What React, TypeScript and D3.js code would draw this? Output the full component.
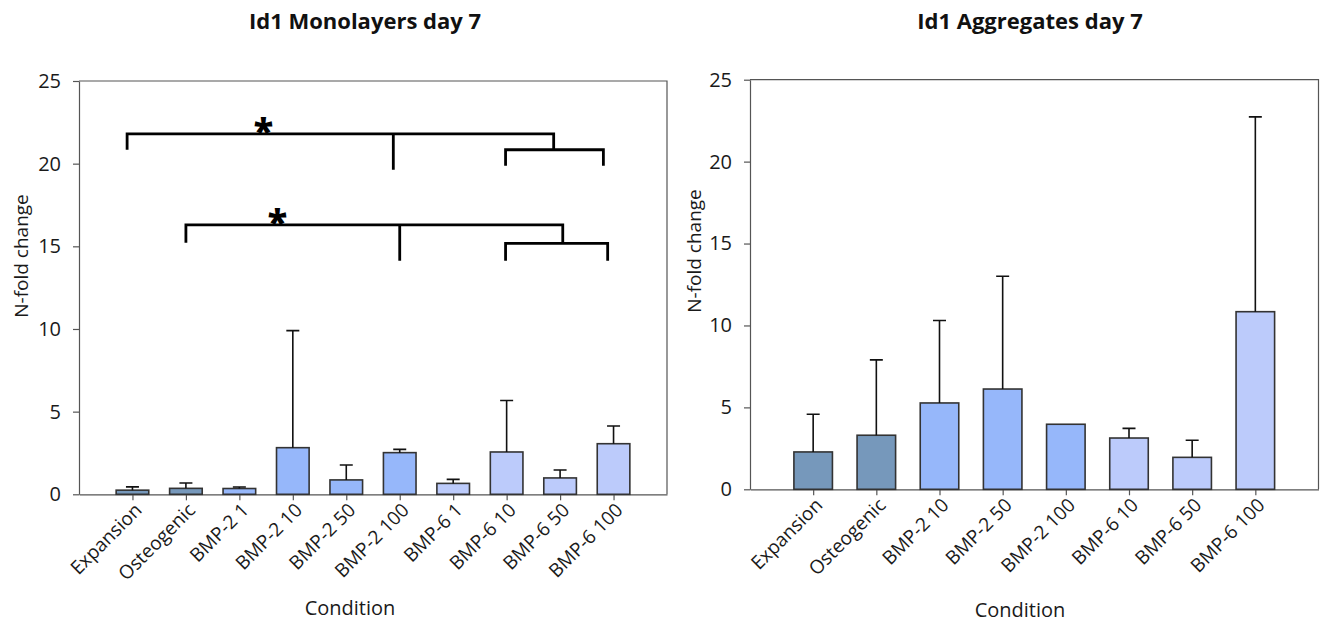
import React, { useEffect, useRef } from "react";
import * as d3 from "d3";

// Id1 monolayers, day 7
const monoCategories = ["Expansion", "Osteogenic", "BMP-2 1", "BMP-2 10", "BMP-2 50", "BMP-2 100", "BMP-6 1", "BMP-6 10", "BMP-6 50", "BMP-6 100"];
const monoGroups = ["ctrl", "ctrl", "bmp2", "bmp2", "bmp2", "bmp2", "bmp6", "bmp6", "bmp6", "bmp6"];
const monoMeans = [0.25, 0.36, 0.35, 2.82, 0.87, 2.52, 0.66, 2.56, 0.99, 3.06];
const monoErrTop = [0.45, 0.68, 0.44, 9.9, 1.77, 2.72, 0.9, 5.67, 1.47, 4.13];

// Id1 aggregates, day 7
const aggCategories = ["Expansion", "Osteogenic", "BMP-2 10", "BMP-2 50", "BMP-2 100", "BMP-6 10", "BMP-6 50", "BMP-6 100"];
const aggGroups = ["ctrl", "ctrl", "bmp2", "bmp2", "bmp2", "bmp6", "bmp6", "bmp6"];
const aggMeans = [2.28, 3.3, 5.27, 6.12, 3.97, 3.13, 1.95, 10.84];
const aggErrTop = [4.58, 7.9, 10.3, 13.0, 3.97, 3.72, 2.99, 22.73];

const yTicks = [0, 5, 10, 15, 20, 25];

// significance brackets on the monolayer panel (x = category index, y = N-fold)
const brackets = [
  { top: 21.8, left: -0.1, leftEnd: 20.84, mid: 4.88, midEnd: 19.63, node: 7.88, sub: 20.84, subL: 6.98, subR: 8.81, subEnd: 19.87, starX: 2.45 },
  { top: 16.3, left: 1.0, leftEnd: 15.21, mid: 5.0, midEnd: 14.12, node: 8.05, sub: 15.18, subL: 6.98, subR: 8.89, subEnd: 14.12, starX: 2.71 },
];

const groupColor: Record<string, string> = { ctrl: "#7698bb", bmp2: "#96b7fa", bmp6: "#bccbfb" };
const FONT = "'Open Sans', sans-serif";

type PanelOpts = {
  title: string;
  titleX: number;
  categories: string[];
  groups: string[];
  means: number[];
  errTop: number[];
  box: { left: number; right: number; top: number; bottom: number };
  yLabel: { x: number; y: number };
  cond: { x: number; y: number };
  sig?: typeof brackets;
};

function drawPanel(svg: d3.Selection<SVGSVGElement, unknown, null, undefined>, o: PanelOpts) {
  const { left, right, top, bottom } = o.box;
  const g = svg.append("g");

  const x = d3.scalePoint<string>().domain(o.categories).range([left, right]).padding(1);
  const y = d3.scaleLinear().domain([0, 25]).range([bottom, top]);
  const bw = x.step() * 0.61;
  const xi = d3
    .scaleLinear()
    .domain([0, o.categories.length - 1])
    .range([x(o.categories[0])!, x(o.categories[o.categories.length - 1])!]);

  // frame (top + right)
  g.append("path")
    .attr("d", `M${left},${top}H${right}V${bottom}`)
    .attr("fill", "none")
    .attr("stroke", "#555")
    .attr("stroke-width", 1.2);

  // y axis
  const ya = g
    .append("g")
    .attr("transform", `translate(${left},0)`)
    .call(d3.axisLeft(y).tickValues(yTicks).tickSize(6).tickSizeOuter(0).tickPadding(12));
  ya.select(".domain").attr("stroke", "#555").attr("stroke-width", 1.2);
  ya.selectAll(".tick line").attr("stroke", "#555").attr("stroke-width", 1.2);
  ya.selectAll("text").attr("font-family", FONT).attr("font-size", 20).attr("fill", "#1a1a1a");

  // x axis
  const xa = g
    .append("g")
    .attr("transform", `translate(0,${bottom})`)
    .call(d3.axisBottom(x).tickSize(6).tickSizeOuter(0));
  xa.select(".domain").attr("stroke", "#555").attr("stroke-width", 1.2);
  xa.selectAll(".tick line").attr("stroke", "#555").attr("stroke-width", 1.2);
  xa.selectAll("text")
    .attr("font-family", FONT)
    .attr("font-size", 19)
    .attr("fill", "#1a1a1a")
    .attr("text-anchor", "end")
    .attr("y", 0)
    .attr("dy", 0)
    .attr("transform", "translate(10,17) rotate(-45)");

  // bars
  g.selectAll("rect.bar")
    .data(o.means)
    .join("rect")
    .attr("class", "bar")
    .attr("x", (_, i) => x(o.categories[i])! - bw / 2)
    .attr("y", (d) => y(d))
    .attr("width", bw)
    .attr("height", (d) => y(0) - y(d))
    .attr("fill", (_, i) => groupColor[o.groups[i]])
    .attr("stroke", "#333")
    .attr("stroke-width", 1.6);

  // error bars (upper only)
  o.errTop.forEach((e, i) => {
    if (e <= o.means[i]) return;
    const cx = x(o.categories[i])!;
    g.append("path")
      .attr("d", `M${cx},${y(o.means[i])}V${y(e)}M${cx - 6.5},${y(e)}H${cx + 6.5}`)
      .attr("fill", "none")
      .attr("stroke", "#111")
      .attr("stroke-width", 1.6);
  });

  // significance brackets
  (o.sig || []).forEach((b) => {
    const d = [
      `M${xi(b.left)},${y(b.leftEnd)}V${y(b.top)}H${xi(b.node)}V${y(b.sub)}`,
      `M${xi(b.mid)},${y(b.top)}V${y(b.midEnd)}`,
      `M${xi(b.subL)},${y(b.subEnd)}V${y(b.sub)}H${xi(b.subR)}V${y(b.subEnd)}`,
    ].join("");
    g.append("path")
      .attr("d", d)
      .attr("fill", "none")
      .attr("stroke", "#000")
      .attr("stroke-width", 2.8);
    g.append("text")
      .attr("x", xi(b.starX))
      .attr("y", y(b.top) + 10)
      .attr("text-anchor", "middle")
      .attr("font-family", FONT)
      .attr("font-weight", 800)
      .attr("font-size", 36)
      .text("*");
  });

  // titles
  g.append("text")
    .attr("x", o.titleX)
    .attr("y", 29)
    .attr("text-anchor", "middle")
    .attr("font-family", FONT)
    .attr("font-weight", 700)
    .attr("font-size", 22)
    .attr("fill", "#111")
    .text(o.title);

  g.append("text")
    .attr("transform", `translate(${o.yLabel.x},${o.yLabel.y}) rotate(-90)`)
    .attr("text-anchor", "middle")
    .attr("dy", "0.35em")
    .attr("font-family", FONT)
    .attr("font-size", 19)
    .attr("fill", "#1a1a1a")
    .text("N-fold change");

  g.append("text")
    .attr("x", o.cond.x)
    .attr("y", o.cond.y)
    .attr("text-anchor", "middle")
    .attr("font-family", FONT)
    .attr("font-size", 20)
    .attr("fill", "#1a1a1a")
    .text("Condition");
}

export default function App() {
  const svgRef = useRef<SVGSVGElement>(null);

  useEffect(() => {
    if (!svgRef.current) return;
    const svg = d3.select(svgRef.current);
    svg.selectAll("*").remove();

    svg.append("rect").attr("width", 1320).attr("height", 625).attr("fill", "#fff");

    drawPanel(svg, {
      title: "Id1 Monolayers day 7",
      titleX: 365,
      categories: monoCategories,
      groups: monoGroups,
      means: monoMeans,
      errTop: monoErrTop,
      box: { left: 79, right: 667, top: 81, bottom: 494.3 },
      yLabel: { x: 21, y: 256 },
      cond: { x: 350, y: 615 },
      sig: brackets,
    });

    drawPanel(svg, {
      title: "Id1 Aggregates day 7",
      titleX: 1030,
      categories: aggCategories,
      groups: aggGroups,
      means: aggMeans,
      errTop: aggErrTop,
      box: { left: 750, right: 1318.5, top: 79.7, bottom: 489.3 },
      yLabel: { x: 694, y: 251 },
      cond: { x: 1020, y: 617 },
    });
  }, []);

  return (
    <svg
      ref={svgRef}
      width={1320}
      height={625}
      viewBox="0 0 1320 625"
      style={{ position: "absolute", left: 0, top: 0, display: "block" }}
    />
  );
}
